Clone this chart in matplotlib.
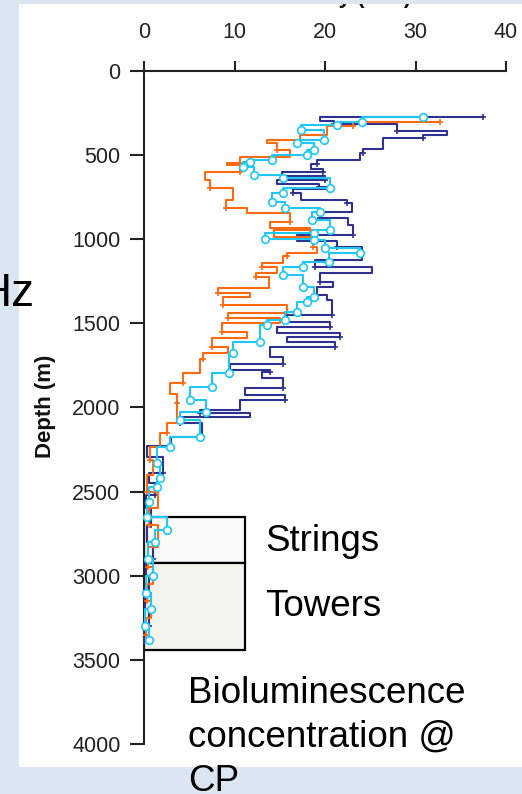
import matplotlib
matplotlib.use("Agg")
import matplotlib.pyplot as plt
from matplotlib.patches import Rectangle
import numpy as np

plt.rcParams['font.family'] = ['Liberation Sans', 'DejaVu Sans']

# ---------------- data (intensity, depth in m) ----------------
navy_x = [37.5, 19.4, 21.0, 28.0, 28.0, 33.5, 30.8, 26.4, 24.2, 23.9, 19.1, 18.5, 19.8,
          15.3, 20.0, 14.7, 19.3, 20.5, 16.5, 17.3, 22.4, 23.0, 19.4, 22.5, 23.1, 16.9,
          21.3, 24.1, 18.9, 25.2, 19.4, 20.9, 19.1, 20.2, 20.8, 15.8, 20.5, 14.7, 21.7,
          15.8, 21.1, 13.9, 15.4, 9.5, 13.9, 13.0, 15.4, 11.2, 15.6, 10.6, 6.2, 11.7,
          4.0, 6.4, 3.0, 0.3, 2.1, 0.5, 1.2, 0.2, 0.8, 0.3, 1.0, 0.2, 0.6, 0.1, 0.5, 0.0]
navy_d = [276, 300, 318, 342, 360, 383, 400, 466, 491, 530, 555, 585, 600,
          626, 650, 674, 690, 705, 729, 769, 788, 838, 877, 917, 977, 1011,
          1047, 1125, 1165, 1203, 1255, 1287, 1333, 1362, 1452, 1495, 1520, 1560, 1585,
          1612, 1641, 1700, 1740, 1778, 1789, 1826, 1886, 1927, 1957, 2016, 2036, 2058,
          2094, 2176, 2230, 2296, 2392, 2450, 2520, 2600, 2700, 2800, 2900, 3000, 3100, 3200, 3300, 3400]

orange_x = [32.7, 23.1, 23.1, 20.2, 17.2, 13.6, 14.7, 16.1, 10.6, 9.2, 10.6, 6.7, 7.3,
            9.8, 9.1, 11.4, 16.1, 13.9, 18.3, 14.4, 18.7, 19.1, 15.8, 15.4, 13.0, 14.7,
            12.4, 13.8, 8.2, 11.7, 8.7, 15.8, 9.3, 15.0, 8.6, 11.4, 7.5, 9.3, 6.5, 6.2,
            4.3, 2.9, 3.6, 3.6, 2.5, 1.8, 0.7, 1.0, 0.3, 1.5, 0.5, 1.6, 0.4, 1.0, 0.3, 0.8, 0.2]
orange_d = [303, 311, 330, 383, 413, 432, 471, 511, 550, 560, 600, 650, 698,
            769, 818, 848, 899, 937, 947, 987, 1047, 1085, 1100, 1145, 1165, 1203,
            1225, 1290, 1323, 1344, 1393, 1440, 1470, 1500, 1550, 1590, 1641, 1680, 1710, 1798,
            1858, 1918, 1976, 2094, 2153, 2235, 2312, 2400, 2500, 2600, 2700, 2830, 2950, 3050,
            3150, 3250, 3350]

cyan_x = [30.8, 24.1, 21.3, 17.4, 19.9, 16.9, 18.8, 18.0, 14.1, 11.7, 10.9, 12.1, 15.4,
          20.6, 15.4, 14.1, 15.6, 19.4, 18.6, 20.6, 18.8, 13.4, 18.8, 20.0, 23.9, 20.4,
          17.6, 15.4, 17.6, 18.8, 18.0, 16.9, 15.6, 13.6, 12.8, 9.8, 9.4, 7.5, 5.1, 6.9,
          4.0, 6.2, 2.9, 1.4, 1.8, 1.4, 0.5, 0.3, 2.5, 1.2, 0.4, 1.0, 0.2, 0.8, 0.1, 0.5]
cyan_d = [275, 303, 322, 352, 412, 432, 471, 501, 530, 542, 570, 620, 639,
          698, 729, 780, 818, 838, 887, 947, 967, 997, 1006, 1056, 1085, 1135,
          1165, 1214, 1285, 1345, 1375, 1435, 1481, 1511, 1612, 1680, 1798, 1880, 1956, 2026,
          2075, 2175, 2235, 2333, 2420, 2472, 2560, 2650, 2730, 2800, 2900, 3000, 3100, 3200,
          3300, 3380]

x_ticks = [0, 10, 20, 30, 40]
y_ticks = [0, 500, 1000, 1500, 2000, 2500, 3000, 3500, 4000]

strings_box = (0, 2650, 11.2, 2927)   # x0, top depth, x1, bottom depth
towers_box = (0, 2927, 11.2, 3442)

# ---------------- figure ----------------
W, H = 522, 794
fig = plt.figure(figsize=(W / 100, H / 100), dpi=100)
fig.patch.set_facecolor('#dce6f2')

def fx(px):
    return px / W

def fy(py):
    return 1 - py / H

panel = Rectangle((fx(19), fy(767)), fx(522) - fx(19), fy(4) - fy(767),
                  transform=fig.transFigure, facecolor='white',
                  edgecolor='none', zorder=0)
fig.add_artist(panel)

ax = fig.add_axes([fx(144), fy(744), fx(506) - fx(144), fy(70.7) - fy(744)])
ax.set_facecolor('none')
ax.set_xlim(0, 40)
ax.set_ylim(4000, 0)

for name in ['bottom', 'right']:
    ax.spines[name].set_visible(False)
for name in ['top', 'left']:
    ax.spines[name].set_linewidth(1.5)
    ax.spines[name].set_color('#222222')

ax.xaxis.tick_top()
ax.set_xticks(x_ticks)
ax.set_yticks(y_ticks)
ax.tick_params(axis='x', direction='out', length=7, width=1.5, pad=13,
               labelsize=15.5, colors='#222222')
ax.tick_params(axis='y', direction='out', length=10, width=1.5, pad=7,
               labelsize=15.5, colors='#222222')

# boxes
for (x0, d0, x1, d1), fc in [(strings_box, '#f9f9f6'), (towers_box, '#f4f4ef')]:
    ax.add_patch(Rectangle((x0, d0), x1 - x0, d1 - d0, facecolor=fc,
                           edgecolor='black', linewidth=1.6, zorder=1))

ax.plot(navy_x, navy_d, drawstyle='steps-post', color='#2e3192', lw=1.5,
        marker='+', ms=5, mew=1.2, markevery=2, zorder=3, clip_on=False)
ax.plot(orange_x, orange_d, drawstyle='steps-post', color='#ff6a10', lw=1.5,
        marker='+', ms=5, mew=1.2, markevery=2, zorder=4, clip_on=False)
ax.plot(cyan_x, cyan_d, drawstyle='steps-post', color='#1ec8f2', lw=1.5,
        marker='o', ms=5.5, mew=1.2, mfc='white', mec='#1ec8f2', zorder=5, clip_on=False)

# texts
fig.text(fx(45), fy(406), 'Depth (m)', rotation=90, ha='center', va='center',
         fontsize=16, fontweight='bold', color='#111111')
top_label = fig.text(fx(336), fy(3.5), 'Intensity (kHz)', ha='center', va='baseline',
                     fontsize=16, fontweight='bold', color='#111111')
top_label.set_clip_path(panel)
top_label.set_clip_on(True)

fig.text(fx(34), fy(306), 'Hz', ha='right', va='baseline', fontsize=33, color='black')

fig.text(fx(265), fy(551), 'Strings', ha='left', va='baseline', fontsize=26.5, color='black')
fig.text(fx(265), fy(616), 'Towers', ha='left', va='baseline', fontsize=26.5, color='black')
for i, line in enumerate(['Bioluminescence', 'concentration @', 'CP']):
    fig.text(fx(188), fy(703 + 44 * i), line, ha='left', va='baseline',
             fontsize=26.5, color='black')

fig.savefig('out.png', dpi=100, facecolor=fig.get_facecolor())
